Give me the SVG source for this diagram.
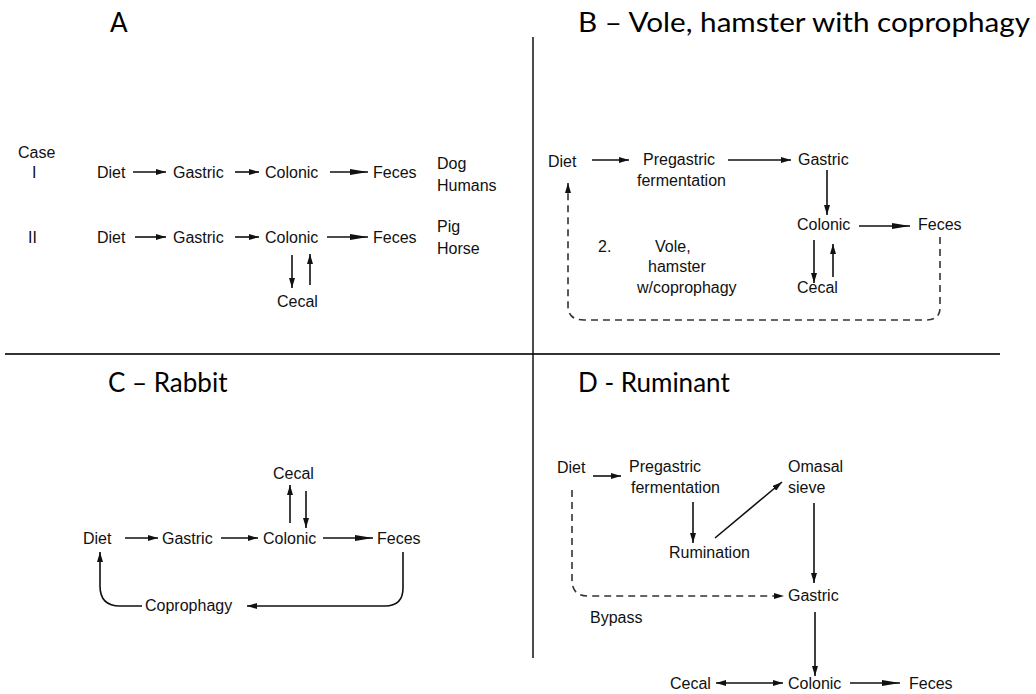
<svg xmlns="http://www.w3.org/2000/svg" width="1036" height="694" viewBox="0 0 1036 694">
<style>
.h{font-family:Lato,"Open Sans",sans-serif;font-size:26px;fill:#000}
.t{font-family:"Liberation Sans",Arial,sans-serif;font-size:16px;fill:#111}
.c{stroke:#111;stroke-width:1.6;fill:none}
.ar{marker-end:url(#ah)}
.ab{marker-end:url(#big)}
.d{stroke-dasharray:7 5;stroke:#333}
</style>
<defs>
<marker id="ah" viewBox="0 0 10 6" refX="10" refY="3" markerUnits="userSpaceOnUse" markerWidth="10" markerHeight="6" orient="auto"><path d="M0,0 L10,3 L0,6 Z" fill="#111"/></marker>
<marker id="big" viewBox="0 0 18 6" refX="18" refY="3" markerUnits="userSpaceOnUse" markerWidth="18" markerHeight="6" orient="auto"><path d="M0,0 L18,3 L0,6 Z" fill="#111"/></marker>
<marker id="st" viewBox="0 0 10 6" refX="0" refY="3" markerUnits="userSpaceOnUse" markerWidth="10" markerHeight="6" orient="auto"><path d="M10,0 L0,3 L10,6 Z" fill="#111"/></marker>
</defs>
<rect width="1036" height="694" fill="#fff"/>
<g id="dividers">
<line x1="5" y1="354" x2="1000" y2="354" stroke="#333" stroke-width="2"/>
<line x1="533" y1="37" x2="533" y2="658" stroke="#111" stroke-width="1.5"/>
</g>
<g id="headers">
<text class="h" x="110" y="32">A</text>
<text class="h" x="578" y="32" textLength="452" lengthAdjust="spacingAndGlyphs">B – Vole, hamster with coprophagy</text>
<text class="h" x="108" y="392">C – Rabbit</text>
<text class="h" x="578" y="392">D - Ruminant</text>
</g>
<g id="panelA">
<text class="t" x="18" y="158" font-size="15">Case</text>
<text class="t" x="32" y="178">I</text>
<text class="t" x="28" y="243">II</text>
<g id="A-I-diet"><text class="t" x="97" y="178">Diet</text></g>
<g id="A-I-gastric"><text class="t" x="173" y="178">Gastric</text></g>
<g id="A-I-colonic"><text class="t" x="265" y="178">Colonic</text></g>
<g id="A-I-feces"><text class="t" x="373" y="178">Feces</text></g>
<text class="t" x="437" y="169">Dog</text>
<text class="t" x="437" y="191">Humans</text>
<g id="A-II-diet"><text class="t" x="97" y="243">Diet</text></g>
<g id="A-II-gastric"><text class="t" x="173" y="243">Gastric</text></g>
<g id="A-II-colonic"><text class="t" x="265" y="243">Colonic</text></g>
<g id="A-II-feces"><text class="t" x="373" y="243">Feces</text></g>
<g id="A-II-cecal"><text class="t" x="277" y="307">Cecal</text></g>
<text class="t" x="437" y="232">Pig</text>
<text class="t" x="437" y="254">Horse</text>
</g>
<g id="panelB">
<g id="B-diet"><text class="t" x="548" y="167">Diet</text></g>
<g id="B-pregastric"><text class="t" x="643" y="165">Pregastric</text><text class="t" x="637" y="186">fermentation</text></g>
<g id="B-gastric"><text class="t" x="798" y="165">Gastric</text></g>
<g id="B-colonic"><text class="t" x="797" y="230">Colonic</text></g>
<g id="B-feces"><text class="t" x="918" y="230">Feces</text></g>
<g id="B-cecal"><text class="t" x="797" y="293">Cecal</text></g>
<text class="t" x="598" y="252">2.</text>
<text class="t" x="655" y="252">Vole,</text>
<text class="t" x="648" y="272">hamster</text>
<text class="t" x="637" y="293">w/coprophagy</text>
</g>
<g id="panelC">
<g id="C-cecal"><text class="t" x="273" y="479">Cecal</text></g>
<g id="C-diet"><text class="t" x="83" y="544">Diet</text></g>
<g id="C-gastric"><text class="t" x="162" y="544">Gastric</text></g>
<g id="C-colonic"><text class="t" x="263" y="544">Colonic</text></g>
<g id="C-feces"><text class="t" x="377" y="544">Feces</text></g>
<g id="C-coprophagy"><text class="t" x="145" y="611">Coprophagy</text></g>
</g>
<g id="panelD">
<g id="D-diet"><text class="t" x="557" y="473">Diet</text></g>
<g id="D-pregastric"><text class="t" x="629" y="472">Pregastric</text><text class="t" x="631" y="493">fermentation</text></g>
<g id="D-omasal"><text class="t" x="788" y="472">Omasal</text><text class="t" x="788" y="493">sieve</text></g>
<g id="D-rumination"><text class="t" x="669" y="558">Rumination</text></g>
<g id="D-gastric"><text class="t" x="788" y="601">Gastric</text></g>
<text class="t" x="590" y="623">Bypass</text>
<g id="D-cecal"><text class="t" x="670" y="689">Cecal</text></g>
<g id="D-colonic"><text class="t" x="788" y="689">Colonic</text></g>
<g id="D-feces"><text class="t" x="909" y="689">Feces</text></g>
</g>
<g id="connectors">
<!-- A -->
<line class="c ar" x1="133" y1="172" x2="166" y2="172"/>
<line class="c ar" x1="235" y1="172" x2="259" y2="172"/>
<line class="c ab" x1="330" y1="172" x2="368" y2="172"/>
<line class="c ar" x1="135" y1="237" x2="166" y2="237"/>
<line class="c ar" x1="235" y1="237" x2="259" y2="237"/>
<line class="c ab" x1="327" y1="237" x2="368" y2="237"/>
<line class="c ar" x1="292" y1="255" x2="292" y2="288"/>
<line class="c ar" x1="310" y1="285" x2="310" y2="254"/>
<!-- B -->
<line class="c ar" x1="592" y1="160" x2="629" y2="160"/>
<line class="c ar" x1="728" y1="160" x2="791" y2="160"/>
<line class="c ar" x1="827" y1="170" x2="827" y2="215"/>
<line class="c ab" x1="859" y1="226" x2="910" y2="226"/>
<line class="c ar" x1="814" y1="240" x2="814" y2="283"/>
<line class="c ar" x1="833" y1="277" x2="833" y2="244"/>
<path class="c d ar" d="M940,237 V308 Q940,320 926,320 H584 Q568,320 568,306 V183"/>
<!-- C -->
<line class="c ar" x1="290" y1="523" x2="290" y2="485"/>
<line class="c ar" x1="306" y1="491" x2="306" y2="528"/>
<line class="c ar" x1="125" y1="538" x2="158" y2="538"/>
<line class="c ar" x1="221" y1="538" x2="258" y2="538"/>
<line class="c ab" x1="323" y1="538" x2="373" y2="538"/>
<path class="c ar" d="M403,552 V588 Q403,606 385,606 H247"/>
<path class="c ar" d="M142,606 H120 Q100,606 100,586 V552"/>
<!-- D -->
<line class="c ar" x1="593" y1="476" x2="621" y2="476"/>
<line class="c ar" x1="693" y1="502" x2="693" y2="543"/>
<line class="c ar" x1="715" y1="538" x2="782" y2="482"/>
<line class="c ar" x1="814" y1="503" x2="814" y2="583"/>
<path class="c d ar" d="M572,490 V580 Q572,596 588,596 H784"/>
<line class="c ar" x1="815" y1="612" x2="815" y2="676"/>
<line class="c ar" x1="716" y1="683" x2="783" y2="683" marker-start="url(#st)"/>
<line class="c ab" x1="850" y1="683" x2="900" y2="683"/>
</g>
</svg>
